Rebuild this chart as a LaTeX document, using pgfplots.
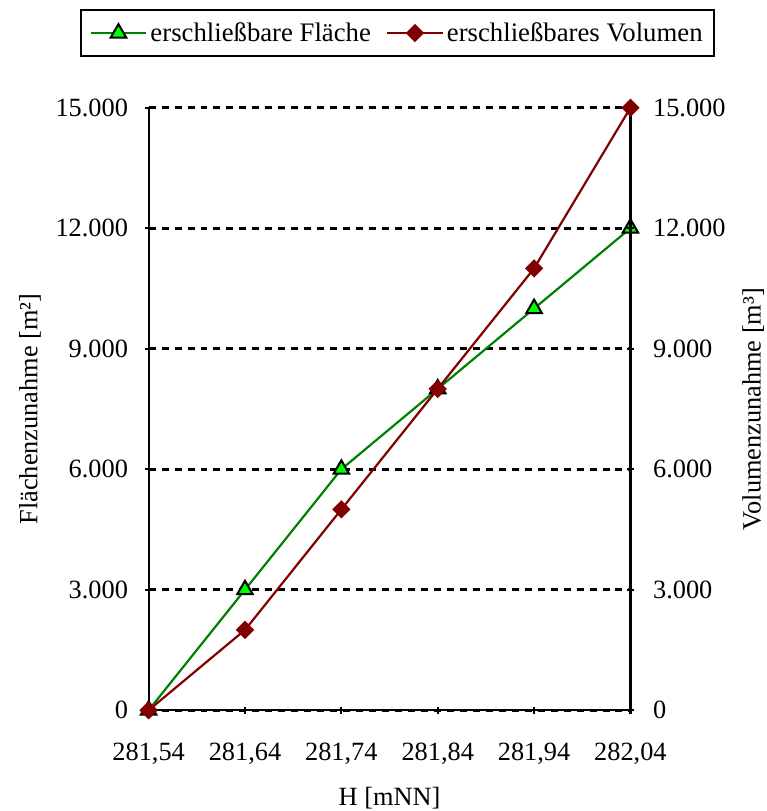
\documentclass[border=0pt]{standalone}
\usepackage{fontspec}
\setmainfont{Liberation Serif}
\usepackage{pgfplots}
\pgfplotsset{compat=1.18}

\definecolor{flgreen}{RGB}{0,128,0}
\definecolor{fllime}{RGB}{0,255,0}
\definecolor{voldark}{RGB}{128,0,0}

\newcommand{\lblfont}{\fontsize{13.2}{15.5}\selectfont}
\newcommand{\legfont}{\fontsize{13.4}{15.5}\selectfont}

\pgfplotsset{
  common/.style={
    scale only axis,
    width=241.5pt, height=302pt,
    xmin=281.54, xmax=282.04,
    ymin=0, ymax=15000,
    ytick={0,3000,6000,9000,12000,15000},
    scaled y ticks=false,
    tick align=center,
    major tick length=3.5pt,
    axis line style={line width=1.1pt},
    tick style={line width=1.1pt, black},
    /pgf/number format/assume math mode=true,
    yticklabel style={/pgf/number format/1000 sep={.}, /pgf/number format/fixed},
    every tick label/.append style={font=\lblfont},
    label style={font=\lblfont, inner sep=0pt},
    clip=false,
  },
  flaeche/.style={flgreen, line width=1.1pt, mark=triangle*, mark size=4.5pt,
    mark options={fill=fllime, draw=black, line width=1pt}},
  volumen/.style={voldark, line width=1.1pt, mark=square*, mark size=2.7pt,
    mark options={fill=voldark, draw=voldark, rotate=45}},
}

\begin{document}
\lblfont
\begin{tikzpicture}
  \begin{axis}[
      common,
      axis x line*=bottom,
      axis y line*=left,
      xtick={281.54,281.64,281.74,281.84,281.94,282.04},
      xticklabel={\pgfmathprintnumber[fixed, fixed zerofill, precision=2, use comma, 1000 sep={}]{\tick}},
      xticklabel style={yshift=-10pt},
      yticklabel style={xshift=-4pt},
      xlabel={H [mNN]},
      xlabel style={at={(rel axis cs:0.5,0)}, anchor=center, yshift=-44pt},
      ylabel={Flächenzunahme [m²]},
      ylabel style={at={(rel axis cs:0,0.5)}, anchor=center, yshift=59.5pt},
      ymajorgrids,
      grid style={black, line width=1.3pt, dash pattern=on 3.5pt off 3pt},
      legend style={at={(0.5,1.0)}, anchor=south, yshift=25.5pt, xshift=4pt,
        legend columns=2, draw=black, line width=1pt,
        inner xsep=4pt, inner ysep=3pt,
        font=\legfont,
        nodes={inner xsep=1.5pt},
        /tikz/every even column/.append style={column sep=6pt}},
      legend cell align=left,
      legend image code/.code={%
        \draw[mark repeat=2, mark phase=2] plot coordinates {(0pt,0pt) (14pt,0pt) (28pt,0pt)};},
    ]
    \addlegendimage{flaeche}
    \addlegendentry{\strut erschließbare Fläche}
    \addlegendimage{volumen}
    \addlegendentry{\strut erschließbares Volumen}
    \addplot[flaeche, forget plot]
      coordinates {
        (281.54,0) (281.64,3000) (281.74,6000)
        (281.84,8000) (281.94,10000) (282.04,12000)
      };
    % Rand des Bildes wie im Original
    \path (rel axis cs:0,1) ++(-74.5pt,54pt);
    \path (rel axis cs:1,0) ++(68pt,-50.5pt);
  \end{axis}
  \begin{axis}[
      common,
      axis x line=none,
      axis y line*=right,
      yticklabel style={xshift=5pt},
      ylabel={Volumenzunahme [m³]},
      ylabel style={at={(rel axis cs:1,0.5)}, anchor=center, yshift=-61.5pt},
    ]
    \addplot[volumen]
      coordinates {
        (281.54,0) (281.64,2000) (281.74,5000)
        (281.84,8000) (281.94,11000) (282.04,15000)
      };
  \end{axis}
\end{tikzpicture}
\end{document}
